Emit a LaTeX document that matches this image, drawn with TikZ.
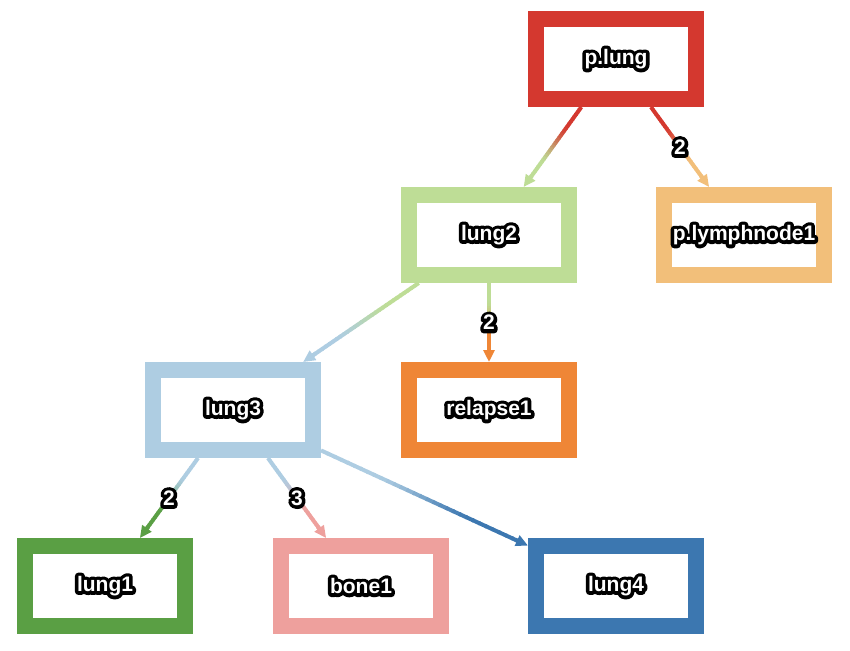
\documentclass[tikz,border=0pt]{standalone}
\usepackage{fontspec}
\setmainfont{Liberation Sans}
\newfontface\hfront{Liberation Sans Bold}
\newfontface\hback[FakeBold=34]{Liberation Sans Bold}
\usetikzlibrary{calc,arrows.meta}
\definecolor{cred}{RGB}{212,56,47}
\definecolor{clgreen}{RGB}{190,221,150}
\definecolor{clorange}{RGB}{242,191,122}
\definecolor{clblue}{RGB}{174,205,226}
\definecolor{corange}{RGB}{239,134,54}
\definecolor{cgreen}{RGB}{90,159,68}
\definecolor{cpink}{RGB}{238,160,157}
\definecolor{cblue}{RGB}{60,119,176}
\newcommand\halo[1]{\leavevmode\pgfsetroundjoin\rlap{\hback\textcolor{black}{#1}}{\hfront\textcolor{white}{#1}}}
\newcommand\gedge[4]{%
  \path (#1) -- (#2) coordinate[pos=0] (#1-#2-s) coordinate[pos=1] (#1-#2-e);
  \coordinate (#1-#2-m) at ($(#1-#2-e)!11pt!(#1-#2-s)$);
  \foreach \i in {0,...,29}{%
    \pgfmathsetmacro\ga{\i/30}%
    \pgfmathsetmacro\gb{min(1,(\i+1.25)/30)}%
    \pgfmathsetmacro\gt{min(1,max(0,((\i+0.5)/30-0.25)/0.55))}%
    \pgfmathtruncatemacro\gp{round(100*(1-\gt*\gt*(3-2*\gt)))}%
    \draw[edgeline, draw=#3!\gp!#4] ($(#1-#2-s)!\ga!(#1-#2-m)$) -- ($(#1-#2-s)!\gb!(#1-#2-m)$);
  }
  \draw[edgeline, draw=#4, -{Triangle[length=12pt,width=11pt]}] ($(#1-#2-e)!14pt!(#1-#2-s)$) -- (#1-#2-e);
}
\begin{document}
\begin{tikzpicture}[x=1pt,y=-1pt,
  box/.style={draw=#1, line width=16pt, minimum width=160pt, minimum height=80pt, inner sep=0pt, fill=white, font=\fontsize{21}{25}\selectfont},
  edgeline/.style={line width=4pt},
  lbl/.style={inner sep=0pt, font=\fontsize{21}{25}\selectfont}]
\useasboundingbox (0,0) rectangle (850,650);
\node[box=cred]     (pl) at (616,59)  {\halo{p.lung}};
\node[box=clgreen]  (l2) at (489,235) {\halo{lung2}};
\node[box=clorange] (ly) at (744,235) {\halo{p.lymphnode1}};
\node[box=clblue]   (l3) at (233,410) {\halo{lung3}};
\node[box=corange]  (r1) at (489,410) {\halo{relapse1}};
\node[box=cgreen]   (l1) at (105,586) {\halo{lung1}};
\node[box=cpink]    (b1) at (361,586) {\halo{bone1}};
\node[box=cblue]    (l4) at (616,586) {\halo{lung4}};
\gedge{pl}{l2}{cred}{clgreen}
\gedge{pl}{ly}{cred}{clorange}
\gedge{l2}{l3}{clgreen}{clblue}
\gedge{l2}{r1}{clgreen}{corange}
\gedge{l3}{l1}{clblue}{cgreen}
\gedge{l3}{b1}{clblue}{cpink}
\gedge{l3}{l4}{clblue}{cblue}
\path (pl) -- (ly) node[midway, lbl] (lab1) {\halo{2}};
\path (l2) -- (r1) node[midway, lbl] (lab2) {\halo{2}};
\path (l3) -- (l1) node[midway, lbl] (lab3) {\halo{2}};
\path (l3) -- (b1) node[midway, lbl] (lab4) {\halo{3}};
\end{tikzpicture}
\end{document}
